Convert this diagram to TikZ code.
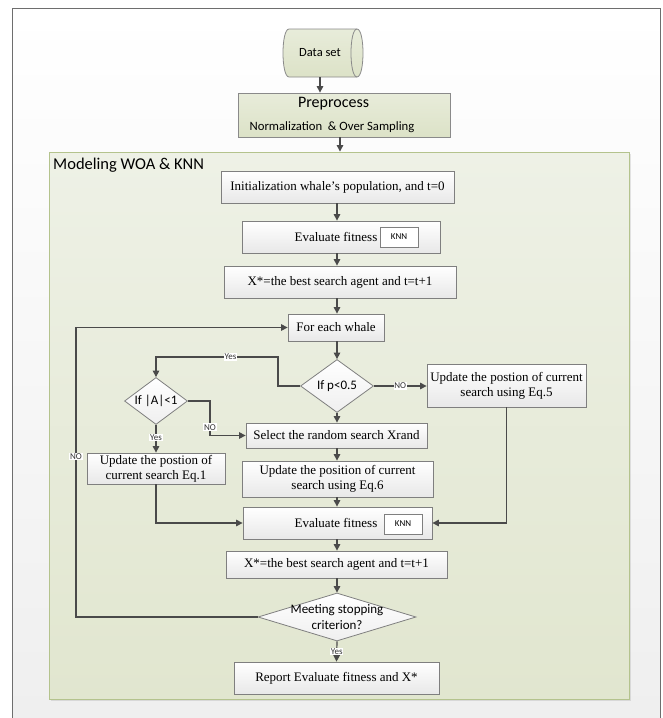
\documentclass[tikz,border=0pt]{standalone}
\usepackage{fontspec}
\setmainfont{Liberation Serif}
\newfontfamily\calfont{Carlito}
\usetikzlibrary{shapes.geometric,arrows.meta,shadows,calc}
\definecolor{arrowc}{HTML}{4A4A4A}
\definecolor{boxline}{HTML}{7F7F7F}
\definecolor{boxbot}{HTML}{E8E8E8}
\definecolor{paneltop}{HTML}{EEF1E6}
\definecolor{panelbot}{HTML}{E1E6CF}
\definecolor{panelline}{HTML}{B4C38D}
\definecolor{framec}{HTML}{6E6E6E}
\definecolor{framebot}{HTML}{EFEFEF}
\definecolor{cyltop}{HTML}{E8ECDA}
\definecolor{cylbot}{HTML}{DCE2C7}
\definecolor{cylline}{HTML}{8A8A8A}
\begin{document}
\begin{tikzpicture}[x=1pt,y=-1pt,
  box/.style={draw=boxline, line width=0.8pt, top color=white, bottom color=boxbot,
    drop shadow={shadow xshift=1.2pt,shadow yshift=-1.2pt,opacity=0.25},
    inner sep=0pt, font=\fontsize{13}{15}\selectfont, align=center},
  prebox/.style={draw=cylline, line width=0.8pt, top color=cyltop, bottom color=cylbot,
    drop shadow={shadow xshift=1.2pt,shadow yshift=-1.2pt,opacity=0.25}, inner sep=0pt},
  panel/.style={draw=panelline, line width=0.9pt, top color=paneltop, bottom color=panelbot,
    drop shadow={shadow xshift=1.5pt,shadow yshift=-1.5pt,opacity=0.2}, inner sep=0pt},
  dia/.style={diamond, draw=boxline, line width=0.8pt, top color=white, bottom color=boxbot!70, inner sep=0pt},
  txt/.style={inner sep=0pt, font=\fontsize{13}{15}\selectfont},
  dtxt/.style={inner sep=0pt, font=\calfont\fontsize{13}{16}\selectfont, align=center},
  knn/.style={draw=boxline, line width=0.8pt, fill=white, minimum width=38, minimum height=20,
    inner sep=0pt, font=\calfont\fontsize{9}{10}\selectfont,
    drop shadow={shadow xshift=0.8pt,shadow yshift=-0.8pt,opacity=0.2}},
  lab/.style={fill=white, inner sep=0.8pt, font=\calfont\fontsize{9}{10}\selectfont, text=black!80},
  arr/.style={draw=arrowc, line width=1.2pt, -{Triangle[length=6.5pt,width=6.5pt]}}
]
\useasboundingbox (0,0) rectangle (663,718);
\fill[white] (0,0) rectangle (663,718);
% outer frame
\shade[top color=white, bottom color=framebot] (12,8) rectangle (660,718);
\draw[framec, line width=1pt] (12,718) -- (12,8) -- (660,8) -- (660,718);

% panel
\node[panel, minimum width=580, minimum height=547] (panel) at (339,425.5) {};
\node[inner sep=0pt, anchor=west, font=\calfont\fontsize{16.5}{18}\selectfont] (title) at (53,165) {Modeling WOA \& KNN};

% data set cylinder
\path[draw=cylline, line width=0.8pt, top color=cyltop, bottom color=cylbot]
  (289,29) -- (357,29) .. controls (365,29) and (365,77) .. (357,77)
  -- (289,77) .. controls (281,77) and (281,29) .. (289,29) -- cycle;
\draw[cylline, line width=0.8pt] (357,29) .. controls (349,29) and (349,77) .. (357,77);
\node[inner sep=0pt, minimum height=48, font=\calfont\fontsize{12.5}{14}\selectfont] (ds) at (320,53) {Data set};

% preprocess
\node[prebox, minimum width=212, minimum height=44] (pre) at (344,115) {};
\node[inner sep=0pt, font=\calfont\fontsize{16}{18}\selectfont] (pret) at (333.5,104) {Preprocess};
\node[inner sep=0pt, font=\calfont\fontsize{12.7}{14}\selectfont] (pren) at (332,127) {Normalization\ \ \& Over Sampling};

\coordinate (ax) at (340,0);
\coordinate (col) at (337,0);
\draw[arr] (ds.south) -- (pre.north -| ds.south);
\draw[arr] (pre.south -| ax) -- (panel.north -| ax);

% main nodes
\node[box, minimum width=233, minimum height=32] (init) at (337.5,187) {Initialization whale's population, and t=0};
\node[box, minimum width=198, minimum height=32] (ev1) at (341,237) {};
\node[txt] (ev1t) at (336,237) {Evaluate fitness};
\node[knn] (knn1) at (399,237) {KNN};
\node[box, minimum width=232, minimum height=32] (xs1) at (340,282) {X*=the best search agent and t=t+1};
\node[box, minimum width=96, minimum height=27] (forw) at (336,327.5) {For each whale};
\node[dia, minimum width=73, minimum height=53] (dp) at (337,386) {};
\node[dtxt] (dpt) at (337,386) {If p<0.5};
\node[box, minimum width=159, minimum height=43] (eq5) at (506.5,385.5) {Update the postion of current\\search using Eq.5};
\node[dia, minimum width=63, minimum height=47] (dA) at (156,401) {};
\node[dtxt] (dAt) at (156,401) {If |A|<1};
\node[box, minimum width=181, minimum height=25] (sel) at (336.5,435.5) {Select the random search Xrand};
\node[box, minimum width=138, minimum height=31] (eq1) at (156,468.5) {Update the postion of\\current search Eq.1};
\node[box, minimum width=191, minimum height=36] (eq6) at (337.5,479) {Update the position of current\\search using Eq.6};
\node[box, minimum width=189, minimum height=32] (ev2) at (337.5,523) {};
\node[txt] (ev2t) at (336,523) {Evaluate fitness};
\node[knn] (knn2) at (403,524) {KNN};
\node[box, minimum width=221, minimum height=27] (xs2) at (336.5,564.5) {X*=the best search agent and t=t+1};
\node[dia, minimum width=158, minimum height=48] (dst) at (337,617) {};
\node[dtxt] (dstt) at (337,617) {Meeting stopping\\criterion?};
\node[box, minimum width=205, minimum height=32] (rep) at (336.5,678) {Report Evaluate fitness and X*};

% straight connectors
\foreach \a/\b in {init/ev1, ev1/xs1, xs1/forw, forw/dp, dp/sel, sel/eq6, eq6/ev2, ev2/xs2, xs2/dst}
  \draw[arr] (\a.south -| col) -- (\b.north -| col);
\draw[arr] (dst.south) -- node[lab] (yes3) {Yes} (rep.north);

% branches
\draw[arr] (dp.east) -- node[lab] (no1) {NO} (eq5.west |- dp.east);
\draw[arr] (dp.west) -- (278,386) -- (278,357) -- node[lab,pos=0.39] (yes1) {Yes} (156,357) -- (dA.north);
\draw[arr] (dA.east) -- (210,401) -- node[lab,pos=0.76] (no2) {NO} (210,435.5) -- (sel.west);
\draw[arr] (dA.south) -- node[lab,pos=0.46] (yes2) {Yes} (eq1.north);
\draw[arr] (eq1.south) -- (156,523) -- (ev2.west);
\draw[arr] (eq5.south) -- (506.5,523) -- (ev2.east);
\draw[arr] (dst.west) -- (76,617) -- node[lab,pos=0.555] (no3) {NO} (76,327.5) -- (forw.west);
\end{tikzpicture}
\end{document}
